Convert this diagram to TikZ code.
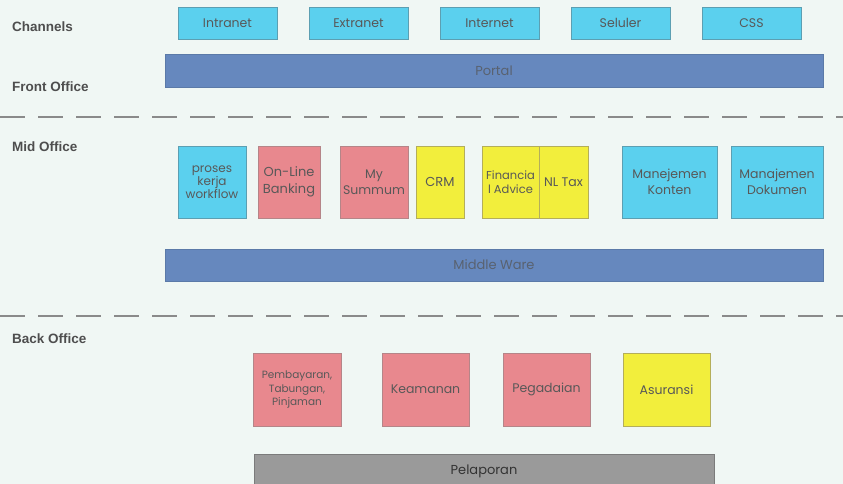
\documentclass[tikz,border=0pt]{standalone}
\usepackage{fontspec}
\setmainfont{Poppins}
\newfontfamily\labfont{Liberation Sans}
\definecolor{bgc}{HTML}{F0F7F4}
\definecolor{cyanf}{HTML}{5BD0EE}
\definecolor{cyand}{HTML}{5C9FB2}
\definecolor{bluef}{HTML}{6688BE}
\definecolor{blued}{HTML}{5B7AA8}
\definecolor{pinkf}{HTML}{E8888E}
\definecolor{pinkd}{HTML}{B58588}
\definecolor{yelf}{HTML}{F2EE3C}
\definecolor{yeld}{HTML}{B4AE5A}
\definecolor{greyf}{HTML}{9A9A9A}
\definecolor{txt}{HTML}{585858}
\definecolor{labc}{HTML}{4E4E4E}
\definecolor{dashc}{HTML}{8A8A8A}
\tikzset{
  bx/.style={draw, line width=0.8pt, inner sep=0pt, align=center, text=txt},
  cybox/.style={bx, fill=cyanf, draw=cyand},
  pkbox/.style={bx, fill=pinkf, draw=pinkd},
  ylbox/.style={bx, fill=yelf, draw=yeld},
  bar/.style={bx, fill=bluef, draw=blued, minimum width=658pt, minimum height=32pt, text=txt!70!blued, font=\fontsize{13}{15}\selectfont},
  lab/.style={anchor=west, inner sep=0pt, text=labc, font=\labfont\bfseries\fontsize{13.5}{15}\selectfont},
  sep/.style={draw=dashc, line width=2pt, dash pattern=on 25pt off 13pt},
  chan/.style={cybox, minimum width=99pt, minimum height=32pt, font=\fontsize{12.5}{14}\selectfont},
  mid/.style={minimum height=72pt, font=\fontsize{12.5}{16}\selectfont},
  back/.style={minimum height=73pt, minimum width=87pt, font=\fontsize{12.5}{15}\selectfont}
}
\begin{document}
\begin{tikzpicture}[x=1pt,y=-1pt]
\fill[bgc] (0,0) rectangle (843,484);
\useasboundingbox (0,0) rectangle (843,484);
% labels
\node[lab] (lch) at (12,27) {Channels};
\node[lab] (lfo) at (12,87) {Front Office};
\node[lab] (lmo) at (12,147) {Mid Office};
\node[lab] (lbo) at (12,339) {Back Office};
% channels
\node[chan] (intra) at (227.5,23) {Intranet};
\node[chan] (extra) at (358.5,23) {Extranet};
\node[chan] (inter) at (489.5,23) {Internet};
\node[chan] (selu) at (620.5,23) {Seluler};
\node[chan] (css) at (751.5,23) {CSS};
\node[bar, minimum height=33pt] (portal) at (494,70.5) {Portal};
% separators
\coordinate (s1a) at (0,117); \coordinate (s1b) at (843,117);
\coordinate (s2a) at (0,316); \coordinate (s2b) at (843,316);
\draw[sep] (s1a) -- (s1b);
\draw[sep] (s2a) -- (s2b);
% mid office
\node[cybox, mid, minimum width=68pt, font=\fontsize{12}{13}\selectfont] (proses) at (212,182) {proses\\kerja\\workflow};
\node[pkbox, mid, minimum width=62pt, font=\fontsize{13}{17}\selectfont] (online) at (289,182) {On-Line\\Banking};
\node[pkbox, mid, minimum width=68pt] (summum) at (374,182) {My\\Summum};
\node[ylbox, mid, minimum width=48pt, font=\fontsize{13}{15}\selectfont] (crm) at (440,182) {CRM};
\node[ylbox, mid, minimum width=57pt, font=\fontsize{11.5}{14}\selectfont] (fin) at (510.5,182) {Financia\\l Advice};
\node[ylbox, mid, minimum width=49pt, font=\fontsize{12.5}{15}\selectfont] (nltax) at (563.5,182) {NL Tax};
\node[cybox, mid, minimum width=95pt] (konten) at (669.5,182) {Manejemen\\Konten};
\node[cybox, mid, minimum width=92pt] (dokumen) at (777,182) {Manajemen\\Dokumen};
\node[bar] (mw) at (494,265) {Middle Ware};
% back office
\node[pkbox, back, minimum width=88pt, font=\fontsize{10.5}{13.5}\selectfont] (pemb) at (297,389.5) {Pembayaran,\\Tabungan,\\Pinjaman};
\node[pkbox, back] (keam) at (425.5,389.5) {Keamanan};
\node[pkbox, back] (pega) at (546.5,389.5) {Pegadaian};
\node[ylbox, back] (asur) at (666.5,389.5) {Asuransi};
\node[bx, fill=greyf, draw=greyf!80!black, minimum width=460pt, minimum height=34pt, text=black!80, font=\fontsize{13}{15}\selectfont] (pelap) at (484,471) {Pelaporan};
\end{tikzpicture}
\end{document}
